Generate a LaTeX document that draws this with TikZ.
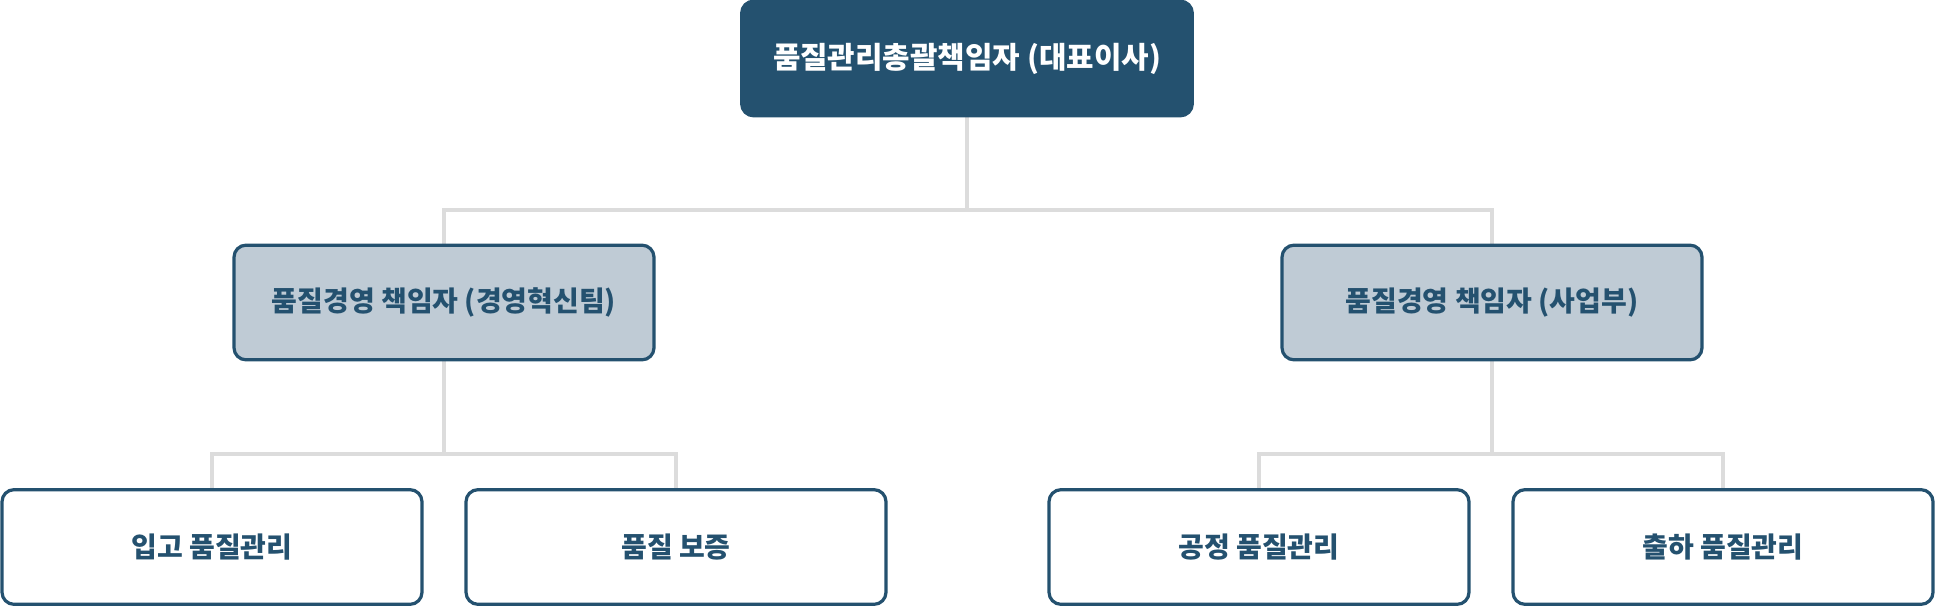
\documentclass[tikz,border=0pt]{standalone}
\usepackage{fontspec}
\newfontfamily\krfont{Noto Sans CJK KR}
\usetikzlibrary{backgrounds}
\definecolor{navy}{HTML}{24516F}
\definecolor{slate}{HTML}{BFCBD5}
\definecolor{wire}{HTML}{DCDCDC}
\begin{document}
\begin{tikzpicture}[
  x=0.75pt, y=-0.75pt,
  unit/.style={draw=navy, line width=2.4pt, rounded corners=9pt, align=center,
    minimum width=315pt, minimum height=86pt, inner sep=0pt, font=\krfont\bfseries\fontsize{21}{25}\selectfont},
  head/.style={unit, fill=navy, text=white, minimum width=338pt, font=\krfont\bfseries\fontsize{22.4}{27}\selectfont},
  office/.style={unit, fill=slate, text=navy},
  team/.style={unit, fill=white, text=navy},
  link/.style={draw=wire, line width=2.4pt}
]
\useasboundingbox (0,0) rectangle (1936,606);
\node[head] (ceo) at (967,58.5) {품질관리총괄책임자 (대표이사)};
\node[office] (mgmt) at (444,302.5) {품질경영 책임자 (경영혁신팀)};
\node[office] (biz) at (1492,302.5) {품질경영 책임자 (사업부)};
\node[team] (inbound) at (212,547) {입고 품질관리};
\node[team] (assure) at (676,547) {품질 보증};
\node[team] (process) at (1259,547) {공정 품질관리};
\node[team] (outbound) at (1723,547) {출하 품질관리};
\coordinate (bus0) at (967,210);
\coordinate (bus1) at (444,454);
\coordinate (bus2) at (1492,454);
\begin{scope}[on background layer]
\draw[link] (ceo.south) -- (ceo.south |- bus0);
\draw[link] (mgmt.north) |- (bus0) -| (biz.north);
\draw[link] (mgmt.south) -- (mgmt.south |- bus1);
\draw[link] (inbound.north) |- (bus1) -| (assure.north);
\draw[link] (biz.south) -- (biz.south |- bus2);
\draw[link] (process.north) |- (bus2) -| (outbound.north);
\end{scope}
\end{tikzpicture}
\end{document}
